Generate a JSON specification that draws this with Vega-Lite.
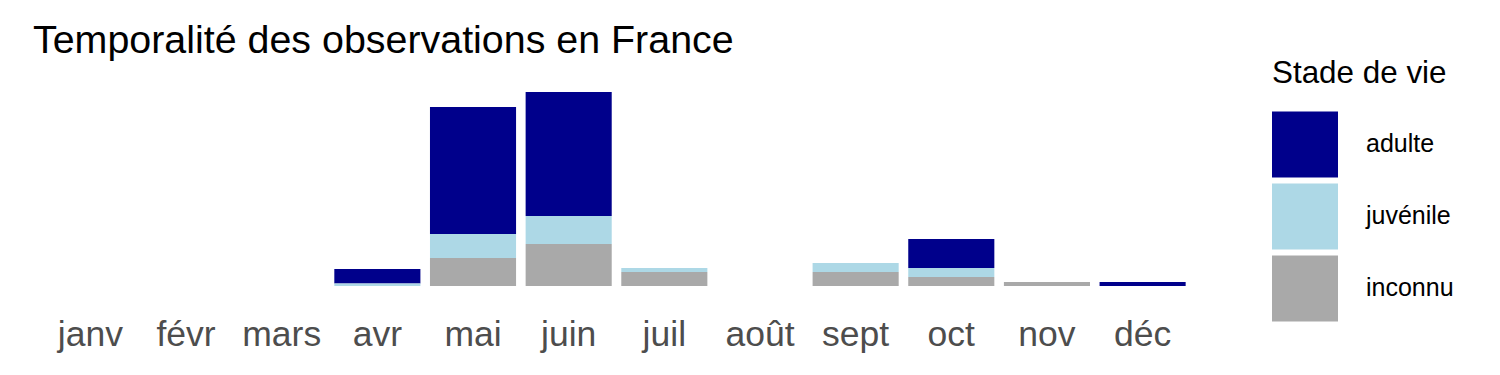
{
  "$schema": "https://vega.github.io/schema/vega-lite/v6.json",
  "autosize": {"type": "none"},
  "width": 1167,
  "height": 210,
  "padding": {"left": 33, "top": 76, "right": 300, "bottom": 89},
  "background": "white",
  "config": {
    "font": "Liberation Sans",
    "view": {"stroke": null}
  },
  "title": {
    "text": "Temporalité des observations en France",
    "anchor": "start",
    "frame": "group",
    "fontSize": 39.4,
    "fontWeight": "normal",
    "color": "#000000",
    "baseline": "alphabetic",
    "offset": 23,
    "dy": 57
  },
  "data": {
    "values": [
      {"mois": "avr", "stade": "adulte", "nombre": 14.5, "ordre": 3},
      {"mois": "avr", "stade": "juvénile", "nombre": 2.5, "ordre": 2},
      {"mois": "mai", "stade": "adulte", "nombre": 127, "ordre": 3},
      {"mois": "mai", "stade": "juvénile", "nombre": 24, "ordre": 2},
      {"mois": "mai", "stade": "inconnu", "nombre": 28, "ordre": 1},
      {"mois": "juin", "stade": "adulte", "nombre": 124, "ordre": 3},
      {"mois": "juin", "stade": "juvénile", "nombre": 28, "ordre": 2},
      {"mois": "juin", "stade": "inconnu", "nombre": 42, "ordre": 1},
      {"mois": "juil", "stade": "juvénile", "nombre": 4, "ordre": 2},
      {"mois": "juil", "stade": "inconnu", "nombre": 14, "ordre": 1},
      {"mois": "sept", "stade": "juvénile", "nombre": 9, "ordre": 2},
      {"mois": "sept", "stade": "inconnu", "nombre": 14, "ordre": 1},
      {"mois": "oct", "stade": "adulte", "nombre": 29, "ordre": 3},
      {"mois": "oct", "stade": "juvénile", "nombre": 9, "ordre": 2},
      {"mois": "oct", "stade": "inconnu", "nombre": 9, "ordre": 1},
      {"mois": "nov", "stade": "inconnu", "nombre": 4, "ordre": 1},
      {"mois": "déc", "stade": "adulte", "nombre": 4, "ordre": 3}
    ]
  },
  "mark": {"type": "bar", "strokeWidth": 0},
  "encoding": {
    "x": {
      "field": "mois",
      "type": "nominal",
      "scale": {
        "domain": ["janv", "févr", "mars", "avr", "mai", "juin", "juil", "août", "sept", "oct", "nov", "déc"],
        "paddingInner": 0.1,
        "paddingOuter": 0.15
      },
      "axis": {
        "title": null,
        "domain": false,
        "ticks": false,
        "tickSize": 0,
        "grid": false,
        "labelAngle": 0,
        "labelFontSize": 35.5,
        "labelColor": "#4D4D4D",
        "labelBaseline": "alphabetic",
        "labelPadding": 59
      }
    },
    "y": {
      "field": "nombre",
      "type": "quantitative",
      "stack": "zero",
      "scale": {"domain": [0, 210], "nice": false},
      "axis": null
    },
    "color": {
      "field": "stade",
      "type": "nominal",
      "scale": {
        "domain": ["adulte", "juvénile", "inconnu"],
        "range": ["#00008B", "#ADD8E6", "#A9A9A9"]
      },
      "legend": {
        "title": "Stade de vie",
        "orient": "none",
        "legendX": 1239,
        "legendY": -18,
        "titleFontSize": 31.4,
        "titleFontWeight": "normal",
        "titleColor": "#000000",
        "titlePadding": 22,
        "symbolType": "square",
        "symbolSize": 4356,
        "symbolStrokeWidth": 0,
        "symbolOpacity": 1,
        "labelFontSize": 25,
        "labelColor": "#000000",
        "labelOffset": 28,
        "rowPadding": 6
      }
    },
    "order": {"field": "ordre", "type": "quantitative", "sort": "ascending"}
  }
}
